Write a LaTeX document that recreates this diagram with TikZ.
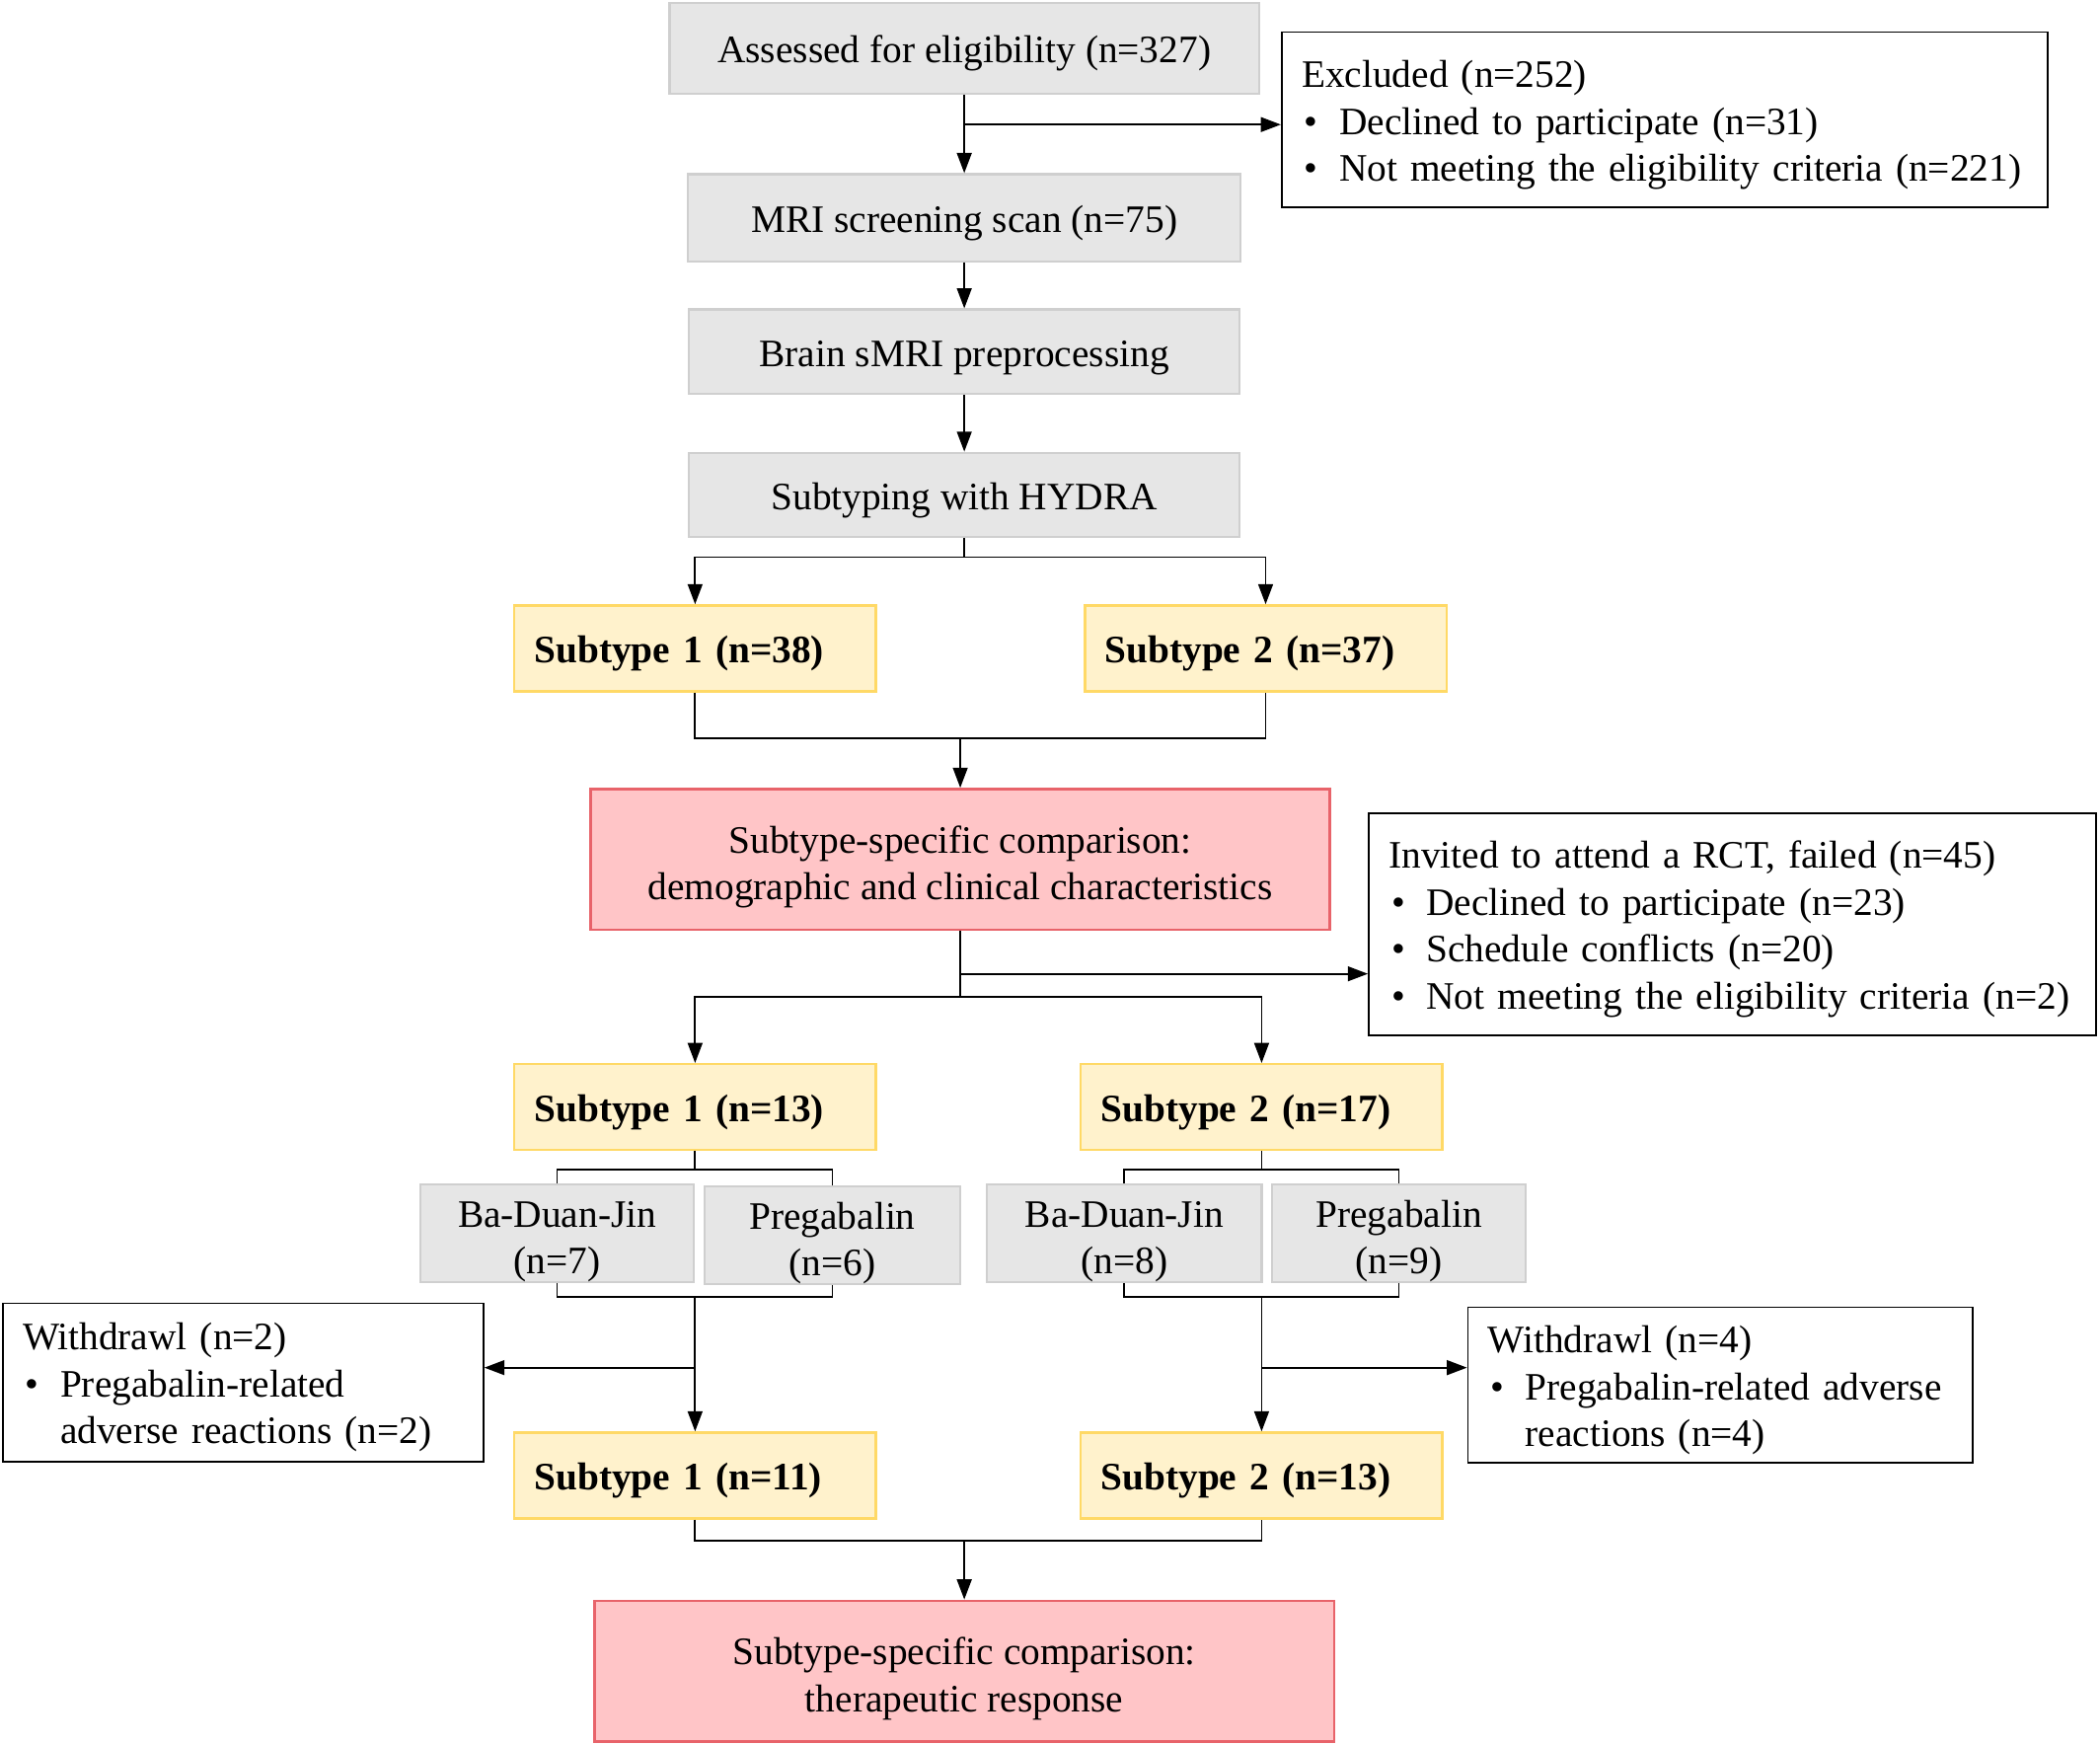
\documentclass[tikz,border=0pt]{standalone}
\usepackage{fontspec}
\setmainfont{Liberation Serif}
\usetikzlibrary{arrows.meta}

\definecolor{boxgray}{HTML}{E6E6E6}
\definecolor{linegray}{HTML}{CFCFCF}
\definecolor{boxyellow}{HTML}{FFF2CC}
\definecolor{lineyellow}{HTML}{FFD966}
\definecolor{boxred}{HTML}{FFC5C7}
\definecolor{linered}{HTML}{E8636A}

\newcommand{\itm}{\makebox[28pt][l]{\hspace{2pt}\textbullet}}
\newcommand{\lift}{\rule{0pt}{32pt}}

\begin{document}
\begin{tikzpicture}[x=1pt,y=-1pt,
    every node/.style={font=\fontsize{29}{35}\selectfont,execute at begin node=\rule{0pt}{28pt}},
    graybox/.style={draw=linegray,fill=boxgray,line width=1.6pt,inner sep=0pt,align=center},
    subbox/.style={draw=lineyellow,fill=boxyellow,line width=1.8pt,inner xsep=15pt,inner ysep=0pt,
        text width=240pt,minimum height=64pt,align=left,font=\fontsize{29}{35}\selectfont\bfseries},
    redbox/.style={draw=linered,fill=boxred,line width=1.8pt,inner sep=0pt,align=center,
        minimum width=552pt,minimum height=105pt},
    notebox/.style={draw,line width=1.3pt,inner xsep=15pt,inner ysep=0pt,align=left},
    conn/.style={line width=1.3pt},
    arr/.style={conn,-{Triangle[length=15pt,width=11pt]}},
]
    \useasboundingbox (0,0) rectangle (1568,1302);

    % screening chain
    \node[graybox,minimum width=440pt,minimum height=68pt] (assess) at (720,36) {Assessed for eligibility (n=327)};
    \node[notebox,text width=542pt,minimum height=131pt] (excl) at (1243,89.5)
        {Excluded (n=252)\\ \itm Declined to participate (n=31)\\ \itm Not meeting the eligibility criteria (n=221)};
    \node[graybox,minimum width=413pt,minimum height=65pt] (mri) at (720,162.5) {MRI screening scan (n=75)};
    \node[graybox,minimum width=411pt,minimum height=63pt] (brain) at (720,262.5) {Brain sMRI preprocessing};
    \node[graybox,minimum width=411pt,minimum height=63pt] (hydra) at (720,369.5) {Subtyping with HYDRA};

    \node[subbox] (subA) at (519,484) {Subtype 1 (n=38)};
    \node[subbox] (subB) at (945,484) {Subtype 2 (n=37)};

    \node[redbox] (cmpA) at (717,641.5) {\lift Subtype-specific comparison:\\ demographic and clinical characteristics};
    \node[notebox,text width=513pt,minimum height=166pt] (rct) at (1293.5,690)
        {Invited to attend a RCT, failed (n=45)\\ \itm Declined to participate (n=23)\\
         \itm Schedule conflicts (n=20)\\ \itm Not meeting the eligibility criteria (n=2)};

    % trial arms
    \node[subbox] (rctA) at (519,826.5) {Subtype 1 (n=13)};
    \node[subbox] (rctB) at (942,826.5) {Subtype 2 (n=17)};

    \node[graybox,minimum width=204pt,minimum height=69pt] (bdjA) at (416,920.5) {\lift Ba-Duan-Jin\\ (n=7)};
    \node[graybox,minimum width=191pt,minimum height=70pt] (pgbA) at (621.5,922) {\lift Pregabalin\\ (n=6)};
    \node[graybox,minimum width=205pt,minimum height=69pt] (bdjB) at (839.5,920.5) {\lift Ba-Duan-Jin\\ (n=8)};
    \node[graybox,minimum width=189pt,minimum height=69pt] (pgbB) at (1044.5,920.5) {\lift Pregabalin\\ (n=9)};

    \node[notebox,text width=329pt,minimum height=118pt] (wdA) at (181.5,1032)
        {Withdrawl (n=2)\\ \itm Pregabalin-related\\ \hspace*{28pt}adverse reactions (n=2)};
    \node[notebox,text width=347pt,minimum height=116pt] (wdB) at (1284.5,1034)
        {Withdrawl (n=4)\\ \itm Pregabalin-related adverse\\ \hspace*{28pt}reactions (n=4)};

    \node[subbox] (endA) at (519,1101.5) {Subtype 1 (n=11)};
    \node[subbox] (endB) at (942,1101.5) {Subtype 2 (n=13)};

    \node[redbox] (cmpB) at (720,1247.5) {\lift Subtype-specific comparison:\\ therapeutic response};

    % connectors
    \coordinate (exA) at (720,93);
    \draw[arr] (assess) -- (mri);
    \draw[arr] (exA) -- (exA -| excl.west);
    \draw[arr] (mri) -- (brain);
    \draw[arr] (brain) -- (hydra);

    \coordinate (spA) at (720,416);
    \draw[conn] (hydra.south) -- (spA);
    \draw[arr] (spA) -| (subA.north);
    \draw[arr] (spA) -| (subB.north);

    \coordinate (mgA) at (717,551);
    \draw[conn] (subA.south) |- (mgA) -| (subB.south);
    \draw[arr] (mgA) -- (cmpA.north);

    \coordinate (exB) at (717,727);
    \coordinate (spB) at (717,744);
    \draw[conn] (cmpA.south) -- (spB);
    \draw[arr] (exB) -- (exB -| rct.west);
    \draw[arr] (spB) -| (rctA.north);
    \draw[arr] (spB) -| (rctB.north);

    \foreach \side/\bdj/\pgb/\col/\wside in {A/bdjA/pgbA/519/east,B/bdjB/pgbB/942/west} {
        \coordinate (top\side) at (\col,873);
        \coordinate (bot\side) at (\col,968);
        \coordinate (wd\side x) at (\col,1021);
        \draw[conn] (rct\side.south) -- (top\side);
        \draw[conn] (\bdj.north) |- (top\side) -| (\pgb.north);
        \draw[conn] (\bdj.south) |- (bot\side) -| (\pgb.south);
        \draw[arr] (bot\side) -- (end\side.north);
        \draw[arr] (wd\side x) -- (wd\side x -| wd\side.\wside);
    }

    \coordinate (mgB) at (720,1150);
    \draw[conn] (endA.south) |- (mgB) -| (endB.south);
    \draw[arr] (mgB) -- (cmpB.north);
\end{tikzpicture}
\end{document}
